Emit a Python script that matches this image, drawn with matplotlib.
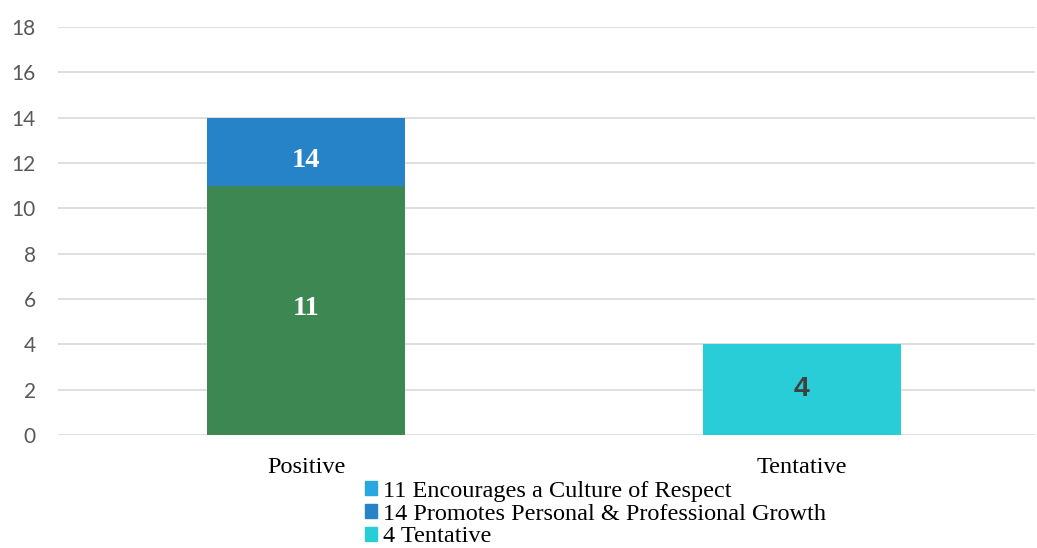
import numpy as np
from matplotlib import pyplot as plt
from matplotlib.patches import Patch

categories = ['Positive', 'Tentative']
respect = [11, 0]
growth = [3, 0]
tentative = [0, 4]
legend_labels = ['11 Encourages a Culture of Respect',
                 '14 Promotes Personal & Professional Growth',
                 '4 Tentative']
yticks = np.arange(0, 19, 2)

green = '#3d8752'
blue = '#2783c7'
light_blue = '#29a8e0'
cyan = '#29cdd8'

fig = plt.figure(figsize=(10.37, 5.48), dpi=100)
ax = fig.add_axes([58 / 1037, 1 - 435 / 548, (1035 - 58) / 1037, (435 - 27) / 548])

x = np.arange(len(categories))
w = 0.40
ax.bar(x[0], respect[0], w, color=green, zorder=3)
ax.bar(x[0], growth[0], w, bottom=respect[0], color=blue, zorder=3)
ax.bar(x[1], tentative[1], w, color=cyan, zorder=3)


def label(xv, yv, txt, dy, color, family):
    ax.annotate(txt, (xv, yv), xytext=(0, dy), textcoords='offset points',
                ha='center', va='center_baseline', color=color, fontsize=20.5,
                fontweight='bold', family=family, zorder=4)


label(x[0], respect[0] / 2, str(respect[0]), 3.5, 'white', 'Liberation Serif')
label(x[0], respect[0] + growth[0] / 2, str(respect[0] + growth[0]), -4.5, 'white', 'Liberation Serif')
label(x[1], tentative[1] / 2, str(tentative[1]), 3, '#404040', 'Liberation Sans')

ax.set_xlim(-0.5, 1.47)
ax.set_ylim(0, 18)
ax.set_yticks(yticks)
ax.set_yticklabels([str(t) for t in yticks], family='Lato', fontsize=15, color='#595959')
ax.set_xticks(x)
ax.set_xticklabels(categories, family='Liberation Serif', fontsize=17.5, color='black')
ax.tick_params(axis='both', length=0)
ax.tick_params(axis='y', pad=16)
ax.tick_params(axis='x', pad=16)
ax.grid(axis='y', color='#d9d9d9', linewidth=1.2, zorder=0)
for s in ax.spines.values():
    s.set_visible(False)

handles = [Patch(color=light_blue), Patch(color=blue), Patch(color=cyan)]
fig.legend(handles, legend_labels, loc='upper left', bbox_to_anchor=(365 / 1037, 1 - 481 / 548),
           frameon=False, prop={'family': 'Liberation Serif', 'size': 17.5},
           handlelength=0.5, handleheight=0.5, handletextpad=0.25, labelspacing=0.07,
           borderpad=0, borderaxespad=0)

fig.savefig('out.png', dpi=100)
